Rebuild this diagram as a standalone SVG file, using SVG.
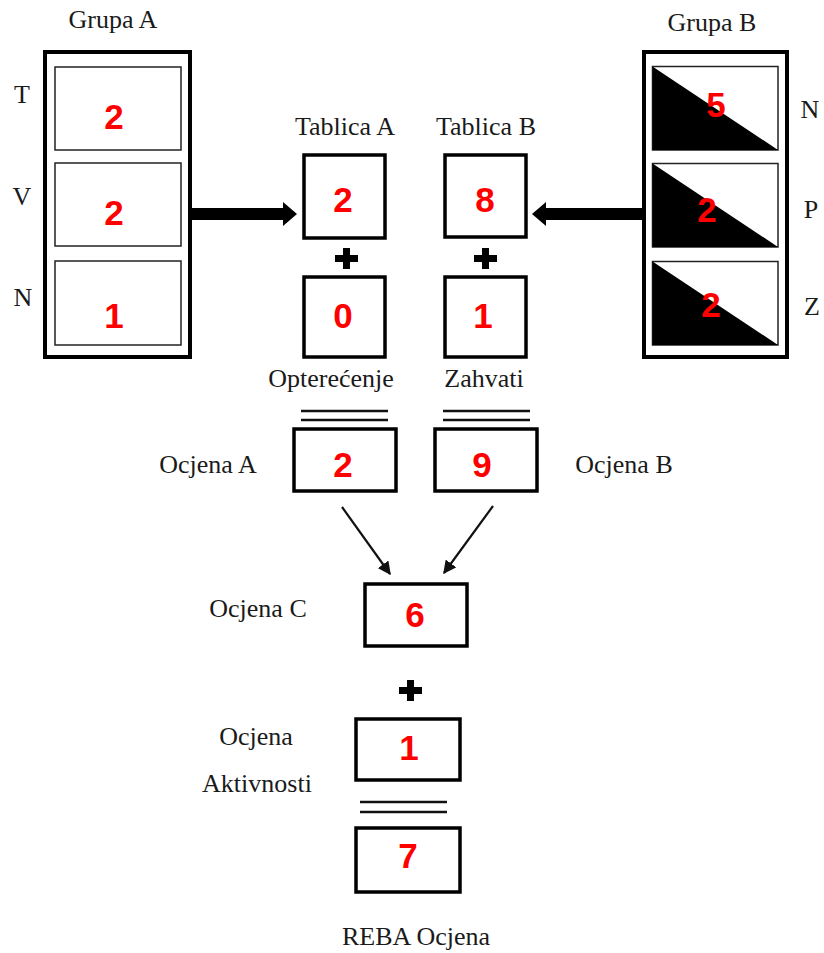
<svg xmlns="http://www.w3.org/2000/svg" width="824" height="953" viewBox="0 0 824 953">
<style>
.lbl{font-family:"Liberation Serif","Times New Roman",serif;font-size:26px;fill:#1a1a1a;text-anchor:middle}
.num{font-family:"Liberation Sans",Arial,sans-serif;font-weight:bold;font-size:35px;fill:#ff0000;text-anchor:middle}
.box{fill:#fff;stroke:#000;stroke-width:3.5}
.outer{fill:#fff;stroke:#000;stroke-width:4}
.inner{fill:#fff;stroke:#222;stroke-width:1.5}
.tri{fill:#000}
.eq{stroke:#111;stroke-width:2.5}
.plus{fill:#000}
.thin{stroke:#111;stroke-width:2.2;fill:none;marker-end:url(#ah)}
.thick{fill:#000}
</style>
<defs>
<marker id="ah" viewBox="0 0 10 10" refX="9" refY="5" markerWidth="6" markerHeight="6" orient="auto" markerUnits="strokeWidth">
<path d="M0,0 L10,5 L0,10 z" fill="#111"/>
</marker>
</defs>

<g id="grupaA">
<text class="lbl" x="113" y="28">Grupa A</text>
<rect class="outer" x="45" y="52" width="145" height="305"/>
<rect class="inner" x="55" y="67" width="126" height="83"/>
<rect class="inner" x="55" y="163" width="126" height="83"/>
<rect class="inner" x="55" y="261" width="126" height="84"/>
<text class="lbl" x="22" y="103">T</text>
<text class="lbl" x="22" y="205">V</text>
<text class="lbl" x="23" y="306">N</text>
<text class="num" x="114" y="129">2</text>
<text class="num" x="114" y="225">2</text>
<text class="num" x="114" y="328">1</text>
</g>

<g id="grupaB">
<text class="lbl" x="712" y="31">Grupa B</text>
<rect class="outer" x="644" y="52" width="143" height="305"/>
<rect class="inner" x="652.5" y="66.5" width="125.5" height="83.5"/>
<polygon class="tri" points="652.5,66.5 778,150 652.5,150"/>
<rect class="inner" x="652.5" y="163.5" width="125.5" height="83.5"/>
<polygon class="tri" points="652.5,163.5 778,247 652.5,247"/>
<rect class="inner" x="652.5" y="261.5" width="125.5" height="83.5"/>
<polygon class="tri" points="652.5,261.5 778,345 652.5,345"/>
<text class="lbl" x="810" y="118">N</text>
<text class="lbl" x="811" y="218">P</text>
<text class="lbl" x="812" y="315">Z</text>
<text class="num" x="716" y="117">5</text>
<text class="num" x="707" y="222">2</text>
<text class="num" x="711" y="317">2</text>
</g>

<g id="tablicaA">
<text class="lbl" x="345" y="135">Tablica A</text>
<rect class="box" x="304" y="155" width="81" height="83"/>
<text class="num" x="343" y="212">2</text>
</g>
<g id="tablicaB">
<text class="lbl" x="486" y="135">Tablica B</text>
<rect class="box" x="445" y="155" width="81" height="82"/>
<text class="num" x="485" y="212">8</text>
</g>
<g id="opterecenje">
<rect class="box" x="304" y="277" width="81" height="80"/>
<text class="num" x="343" y="328">0</text>
<text class="lbl" x="331" y="387">Opterećenje</text>
</g>
<g id="zahvati">
<rect class="box" x="445" y="277" width="81" height="80"/>
<text class="num" x="483" y="328">1</text>
<text class="lbl" x="484" y="387">Zahvati</text>
</g>
<g id="ocjenaA">
<text class="lbl" x="208" y="473">Ocjena A</text>
<rect class="box" x="294" y="429" width="102" height="62"/>
<text class="num" x="343" y="477">2</text>
</g>
<g id="ocjenaB">
<text class="lbl" x="624" y="473">Ocjena B</text>
<rect class="box" x="435" y="429" width="102" height="62"/>
<text class="num" x="482" y="477">9</text>
</g>
<g id="ocjenaC">
<text class="lbl" x="258" y="617">Ocjena C</text>
<rect class="box" x="365" y="584" width="102" height="62"/>
<text class="num" x="415" y="627">6</text>
</g>
<g id="ocjenaAktivnosti">
<text class="lbl" x="256" y="745">Ocjena</text>
<text class="lbl" x="257" y="792">Aktivnosti</text>
<rect class="box" x="356" y="719" width="104" height="61"/>
<text class="num" x="409" y="760">1</text>
</g>
<g id="rebaOcjena">
<rect class="box" x="356" y="828" width="104" height="64"/>
<text class="num" x="408" y="868">7</text>
<text class="lbl" x="416" y="945">REBA Ocjena</text>
</g>

<g id="connectors">
<rect class="thick" x="190" y="208" width="94" height="12"/>
<polygon class="thick" points="283,202 297,214 283,226"/>
<rect class="thick" x="545" y="208" width="99" height="12"/>
<polygon class="thick" points="546,202 532,214 546,226"/>
<path class="plus" d="M343,248h7v7h8v7h-8v7h-7v-7h-8v-7h8z"/>
<path class="plus" d="M482,248h7v7h8v7h-8v7h-7v-7h-8v-7h8z"/>
<path class="plus" d="M407,680h7v7h8v7h-8v7h-7v-7h-8v-7h8z"/>
<line class="eq" x1="301" y1="411" x2="388" y2="411"/>
<line class="eq" x1="301" y1="420" x2="388" y2="420"/>
<line class="eq" x1="443" y1="411" x2="530" y2="411"/>
<line class="eq" x1="443" y1="420" x2="530" y2="420"/>
<line class="eq" x1="360" y1="802" x2="447" y2="802"/>
<line class="eq" x1="360" y1="812" x2="447" y2="812"/>
<line class="thin" x1="342" y1="507" x2="390" y2="574"/>
<line class="thin" x1="493" y1="506" x2="444" y2="573"/>
</g>
</svg>
